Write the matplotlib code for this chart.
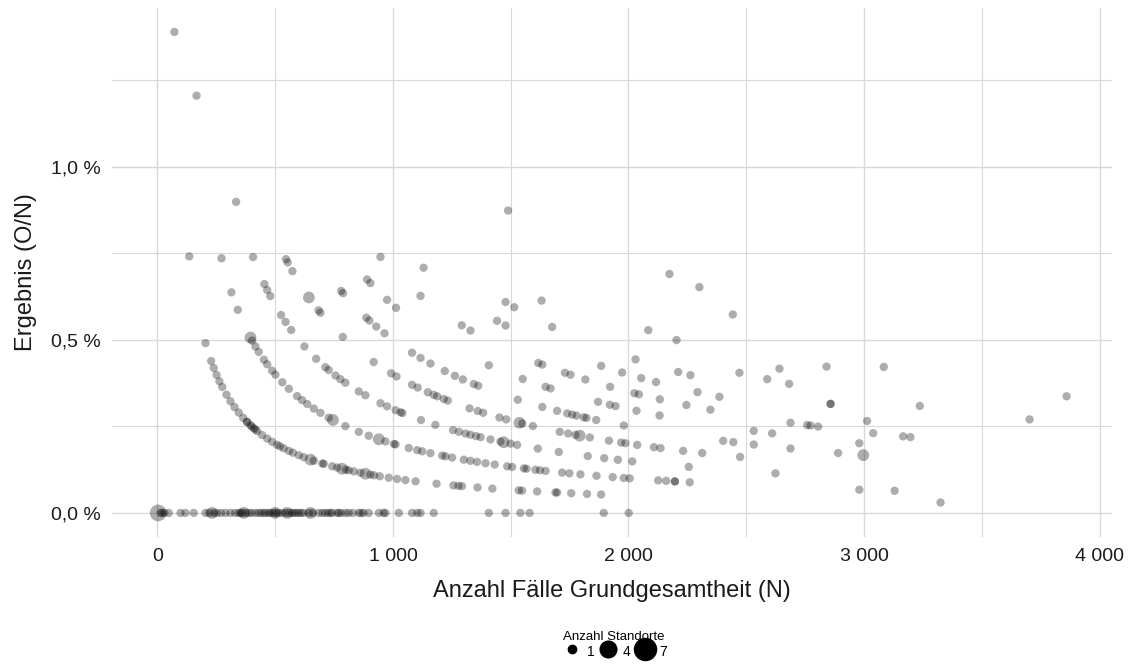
import numpy as np
import matplotlib
matplotlib.use('Agg')
import matplotlib.pyplot as plt
from matplotlib.ticker import FixedLocator, FuncFormatter
from matplotlib.lines import Line2D

plt.rcParams['font.family'] = ['Liberation Sans', 'DejaVu Sans']

# Number of cases N per site, grouped by observed events O (one site per point)
cases_o0 = [13, 20, 30, 48, 98, 119, 154, 204, 220, 240, 253, 270, 289, 310, 330,
            345, 352, 360, 375, 388, 400, 416, 430, 440, 452, 460, 473, 480, 494,
            505, 515, 530, 545, 560, 572, 580, 590, 600, 610, 620, 643, 660, 685,
            700, 713, 725, 735, 742, 763, 770, 780, 798, 812, 830, 855, 865, 875,
            897, 940, 960, 968, 1025, 1081, 1103, 1117, 1173, 1407, 1478, 1541,
            1580, 1895, 2001]
cases_o1 = [72, 135, 204, 228, 239, 251, 263, 275, 293, 310, 327, 345, 364, 380,
            381, 395, 400, 409, 415, 423, 444, 466, 487, 508, 520, 536, 558, 575,
            600, 621, 664, 700, 706, 742, 763, 800, 812, 834, 862, 904, 920, 944,
            982, 1018, 1053, 1096, 1185, 1257, 1278, 1293, 1359, 1422, 1534, 1548,
            1612, 1690, 1697, 1757, 1824, 1884, 3325]
cases_o2 = [166, 272, 314, 341, 402, 416, 430, 452, 466, 487, 501, 530, 558, 593,
            614, 636, 664, 692, 727, 798, 855, 897, 968, 1004, 1011, 1067, 1103,
            1124, 1159, 1209, 1223, 1251, 1301, 1329, 1357, 1393, 1432, 1485, 1506,
            1556, 1567, 1605, 1624, 1648, 1718, 1749, 1796, 1864, 1933, 1980, 2005,
            2126, 2160, 2197, 2197, 2260, 2980, 3130]
cases_o3 = [334, 406, 454, 466, 479, 525, 544, 568, 624, 674, 713, 727, 756, 777,
            798, 855, 883, 947, 975, 1011, 1032, 1040, 1119, 1180, 1255, 1280, 1308,
            1329, 1353, 1372, 1414, 1456, 1499, 1527, 1615, 1704, 1827, 1897, 1955,
            2016, 2256, 2624]
cases_o4 = [546, 553, 573, 684, 692, 787, 918, 992, 1015, 1081, 1105, 1148, 1173,
            1188, 1216, 1233, 1325, 1360, 1383, 1452, 1481, 1549, 1594, 1708, 1744,
            1775, 1836, 1917, 1969, 1987, 2037, 2108, 2136, 2232, 2313, 2474]
cases_o5 = [780, 788, 887, 900, 929, 964, 1081, 1117, 1159, 1220, 1263, 1297, 1343,
            1362, 1530, 1634, 1697, 1740, 1761, 1779, 1810, 1822, 1863, 1980, 2402,
            2445, 2532, 2688, 2890]
cases_o6 = [890, 904, 975, 1013, 1407, 1551, 1648, 1669, 1871, 1921, 1945, 2034,
            2132, 2532, 2610, 2980]
cases_o7 = [947, 1117, 1292, 1329, 1617, 1634, 1730, 1754, 1817, 1922, 2025, 2044,
            2133, 2246, 2348, 2688, 2759, 2773, 2805, 3039, 3166, 3197]
cases_o8 = [1130, 1442, 1478, 1884, 1973, 2054, 2117, 2293, 2386, 3013]
cases_o9 = [1478, 1515, 1676, 2030, 2211, 2263, 2858, 2858]
cases_o10 = [1631, 2471, 2589, 2682, 3237, 3703]
cases_o11 = [2084, 2204, 2641]
cases_o12 = [2841]
cases_o13 = [1489, 3084, 3860]
cases_o14 = [2443]
cases_o15 = [2174, 2301]

# Points that stand for several sites
multi_n = [3, 232, 367, 500, 551, 650, 650, 784, 883, 395, 745, 940, 1470, 643,
           1537, 1793, 2997]
multi_o = [0, 0, 0, 0, 0, 0, 1, 1, 1, 2, 2, 2, 3, 4, 4, 4, 5]
multi_sites = [4, 2, 2, 2, 2, 2, 2, 2, 2, 2, 2, 2, 2, 2, 2, 2, 2]

legend_sites = [1, 4, 7]

groups = [cases_o0, cases_o1, cases_o2, cases_o3, cases_o4, cases_o5, cases_o6,
          cases_o7, cases_o8, cases_o9, cases_o10, cases_o11, cases_o12, cases_o13,
          cases_o14, cases_o15]

n_all, o_all, s_all = [], [], []
for o, cases in enumerate(groups):
    n_all += cases
    o_all += [o] * len(cases)
    s_all += [1] * len(cases)
n_all += multi_n
o_all += multi_o
s_all += multi_sites

n_all = np.array(n_all, dtype=float)
o_all = np.array(o_all, dtype=float)
s_all = np.array(s_all, dtype=float)
rate = o_all / n_all * 100

AREA = 36  # marker area (pt^2) per site

fig = plt.figure(figsize=(11.36, 6.66), dpi=100)
ax = fig.add_axes([112 / 1136, 129 / 666, 1000 / 1136, 529 / 666])

order = np.argsort(-s_all)
ax.scatter(n_all[order], rate[order], s=AREA * s_all[order], c='black',
           alpha=0.32, linewidths=0, zorder=3)

ax.set_xlim(-193, 4053)
ax.set_ylim(-0.0695, 1.458)

ax.xaxis.set_major_locator(FixedLocator([0, 1000, 2000, 3000, 4000]))
ax.xaxis.set_minor_locator(FixedLocator([500, 1500, 2500, 3500]))
ax.yaxis.set_major_locator(FixedLocator([0, 0.5, 1.0]))
ax.yaxis.set_minor_locator(FixedLocator([0.25, 0.75, 1.25]))

ax.xaxis.set_major_formatter(FuncFormatter(
    lambda v, p: f'{int(v):,}'.replace(',', ' ')))
ax.yaxis.set_major_formatter(FuncFormatter(
    lambda v, p: f'{v:.1f} %'.replace('.', ',')))

ax.grid(which='major', color='#d9d9d9', linewidth=1.0, zorder=0)
ax.grid(which='minor', color='#d9d9d9', linewidth=0.8, zorder=0)
ax.set_axisbelow(True)
for spine in ax.spines.values():
    spine.set_visible(False)
ax.tick_params(which='both', length=0, labelsize=14, colors='#1a1a1a')
ax.tick_params(axis='y', pad=8)
ax.tick_params(axis='x', pad=8)

ax.set_xlabel('Anzahl Fälle Grundgesamtheit (N)', fontsize=17, color='#1a1a1a',
              labelpad=11)
ax.set_ylabel('Ergebnis (O/N)', fontsize=17, color='#1a1a1a', labelpad=10)

handles = [Line2D([], [], linestyle='none', marker='o', color='black',
                  markersize=np.sqrt(AREA * k)) for k in legend_sites]
fig.legend(handles, [str(k) for k in legend_sites], ncol=3,
           loc='upper center', bbox_to_anchor=(614 / 1136, 1 - 624 / 666),
           frameon=False, title='Anzahl Standorte', title_fontsize=9.5,
           fontsize=10, handlelength=1.6, handleheight=1.5, handletextpad=0.25,
           columnspacing=0.2, borderpad=0, labelspacing=0)

fig.savefig('out.png', dpi=100)
plt.close(fig)
